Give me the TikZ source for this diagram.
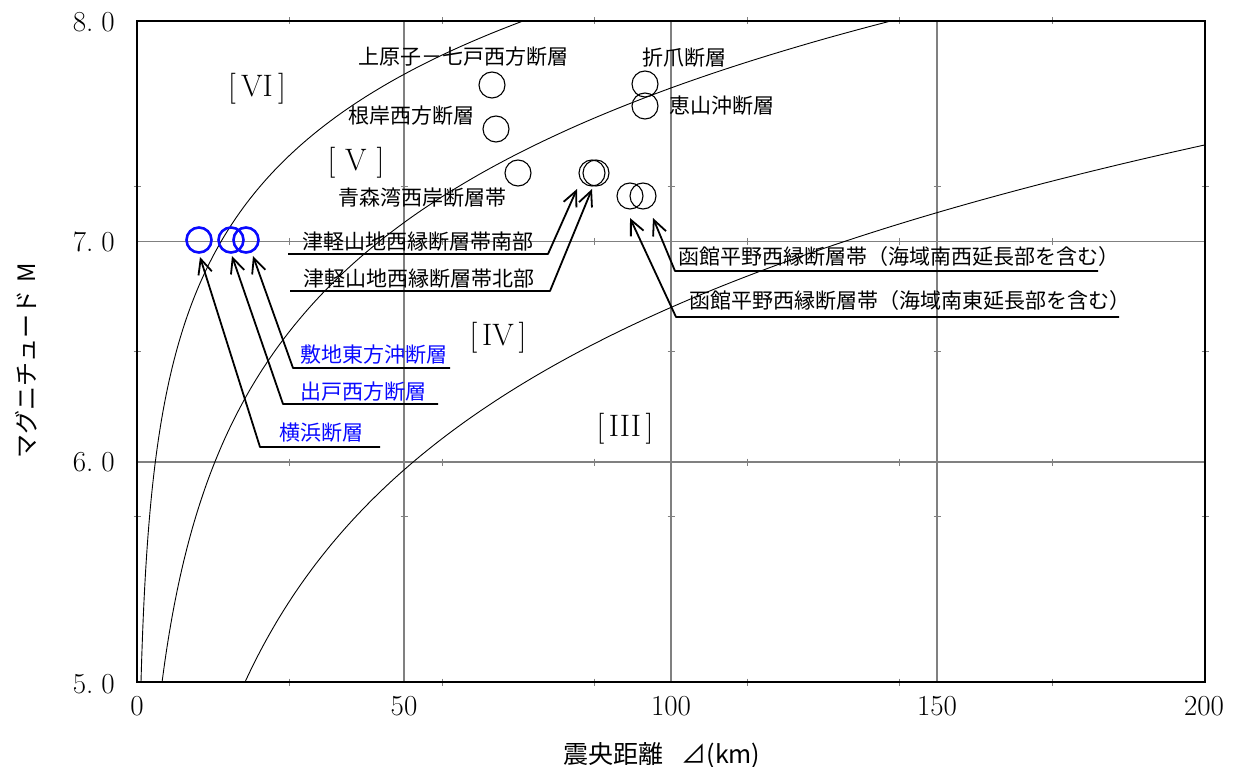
\documentclass[tikz,border=0pt]{standalone}
\usepackage{fontspec}
\newfontfamily\jp{Noto Sans CJK JP}
\usetikzlibrary{arrows.meta}
\definecolor{gridgray}{RGB}{128,128,128}
\definecolor{fblue}{RGB}{10,10,255}
\begin{document}
\begin{tikzpicture}[x=1pt,y=-1pt,
  frame/.style={line width=2.6pt},
  gridline/.style={gridgray, line width=1.3pt},
  tickmark/.style={gridgray, line width=0.8pt},
  curve/.style={line width=0.9pt},
  marker/.style={circle, draw, line width=1.1pt, minimum size=26pt, inner sep=0},
  bmarker/.style={circle, draw=fblue, line width=2.6pt, minimum size=25pt, inner sep=0},
  lbl/.style={font=\jp\fontsize{21}{21}\selectfont, inner sep=0, anchor=west},
  blbl/.style={lbl, text=fblue},
  leader/.style={line width=1.8pt, line join=round, -{Straight Barb[length=15pt,width=14pt]}},
  region/.style={font=\fontsize{31}{31}\selectfont, inner sep=0},
  ticklbl/.style={font=\fontsize{29}{29}\selectfont, inner sep=0},
  axtitle/.style={font=\jp\fontsize{25}{25}\selectfont, inner sep=0},
]
\useasboundingbox[fill=white] (0,0) rectangle (1234,767);

% grid
\foreach \gx in {404,671,937} \draw[gridline] (\gx,21) -- (\gx,682);
\foreach \gy in {241.5,462} \draw[gridline] (137,\gy) -- (1205,\gy);

% small tick marks
\foreach \k in {1,...,6} {
  \foreach \ly in {21,241.5,462,682}
    \draw[tickmark] ({137+\k*152.57},\ly-3.5) -- ({137+\k*152.57},\ly+3.5);
}
\foreach \k in {1,2,3} {
  \foreach \lx in {137,404,671,937,1205}
    \draw[tickmark] (\lx-3.5,{682-\k*165.25}) -- (\lx+3.5,{682-\k*165.25});
}

% intensity boundary curves
\begin{scope}
\clip (137,21) rectangle (1205,682);
\begin{scope}[shift={(137,682)}, x=5.34pt, y=220.33pt]
\draw[curve] plot[domain=5:8, samples=160] ({10^((\x-5.189)/1.512)}, {\x-5});
\draw[curve] plot[domain=5:8, samples=160] ({10^((\x-3.636)/2.03)}, {\x-5});
\draw[curve] plot[domain=5:7.45, samples=160] ({10^((\x-1.80)/2.45)}, {\x-5});
\end{scope}
\end{scope}

% frame
\draw[frame] (137,21) rectangle (1205,682);

% tick labels
\node[ticklbl, anchor=east] (y8) at (115,22) {8.\kern8pt0};
\node[ticklbl, anchor=east] (y7) at (115,241.5) {7.\kern8pt0};
\node[ticklbl, anchor=east] (y6) at (115,462) {6.\kern8pt0};
\node[ticklbl, anchor=east] (y5) at (115,684) {5.\kern8pt0};
\node[ticklbl] (x0) at (137,706) {0};
\node[ticklbl] (x50) at (404,706) {50};
\node[ticklbl] (x100) at (671,706) {100};
\node[ticklbl] (x150) at (937,706) {150};
\node[ticklbl] (x200) at (1204,706) {200};

% axis titles
\node[axtitle] (xtitle) at (662,755) {震央距離\hspace{18pt}⊿(km)};
\node[axtitle, font=\jp\fontsize{24}{24}\selectfont, rotate=90] (ytitle) at (26,361) {マグニチュード\hspace{8pt}M};

% region labels
\node[region] (r6) at (257,89) {\makebox[58pt]{[\hfill VI\hfill]}};
\node[region] (r5) at (356,163) {\makebox[57pt]{[\hfill V\hfill]}};
\node[region] (r4) at (498,338) {\makebox[57pt]{[\hfill IV\hfill]}};
\node[region] (r3) at (625,429) {\makebox[57pt]{[\hfill III\hfill]}};

% markers
\node[bmarker] (yokohama) at (199,240) {};
\node[bmarker] (deto) at (231,240) {};
\node[bmarker] (shikichi) at (246,240) {};
\node[marker] (kamihara) at (492,85) {};
\node[marker] (negishi) at (496,129) {};
\node[marker] (aomori) at (518,173) {};
\node[marker] (tsugaruS) at (592,173) {};
\node[marker] (tsugaruN) at (596,173) {};
\node[marker] (hakoSE) at (630,196) {};
\node[marker] (hakoSW) at (643,196) {};
\node[marker] (orizume) at (645,84) {};
\node[marker] (esan) at (645,106) {};

% plain labels
\node[lbl] (lkamihara) at (358,57) {上原子－七戸西方断層};
\node[lbl] (lorizume) at (642,58) {折爪断層};
\node[lbl] (lesan) at (669,106) {恵山沖断層};
\node[lbl] (lnegishi) at (348,116) {根岸西方断層};
\node[lbl] (laomori) at (338,198) {青森湾西岸断層帯};

% labels with leaders
\node[lbl] (ltsS) at (302,242) {津軽山地西縁断層帯南部};
\node[lbl] (ltsN) at (303,279) {津軽山地西縁断層帯北部};
\node[lbl] (lhkSW) at (678,257) {函館平野西縁断層帯（海域南西延長部を含む）};
\node[lbl] (lhkSE) at (689,301) {函館平野西縁断層帯（海域南東延長部を含む）};
\node[blbl] (lshiki) at (300,355) {敷地東方沖断層};
\node[blbl] (ldeto) at (300,392) {出戸西方断層};
\node[blbl] (lyoko) at (279,433) {横浜断層};

\coordinate (uS1) at (288,254);  \coordinate (uS2) at (548,254);  \coordinate (tS) at (577,189);
\coordinate (uN1) at (290,291);  \coordinate (uN2) at (550,291);  \coordinate (tN) at (592,189);
\coordinate (uW1) at (1098,271); \coordinate (uW2) at (675,271);  \coordinate (tW) at (653,218);
\coordinate (uE1) at (1119,317); \coordinate (uE2) at (676,317);  \coordinate (tE) at (630,218);
\coordinate (uK1) at (450,368);  \coordinate (uK2) at (293,368);  \coordinate (tK) at (253,256);
\coordinate (uD1) at (438,404);  \coordinate (uD2) at (283,404);  \coordinate (tD) at (232,256);
\coordinate (uY1) at (380,447);  \coordinate (uY2) at (260,447);  \coordinate (tY) at (200,257);

\draw[leader] (uS1) -- (uS2) -- (tS);
\draw[leader] (uN1) -- (uN2) -- (tN);
\draw[leader] (uW1) -- (uW2) -- (tW);
\draw[leader] (uE1) -- (uE2) -- (tE);
\draw[leader] (uK1) -- (uK2) -- (tK);
\draw[leader] (uD1) -- (uD2) -- (tD);
\draw[leader] (uY1) -- (uY2) -- (tY);
\end{tikzpicture}
\end{document}
